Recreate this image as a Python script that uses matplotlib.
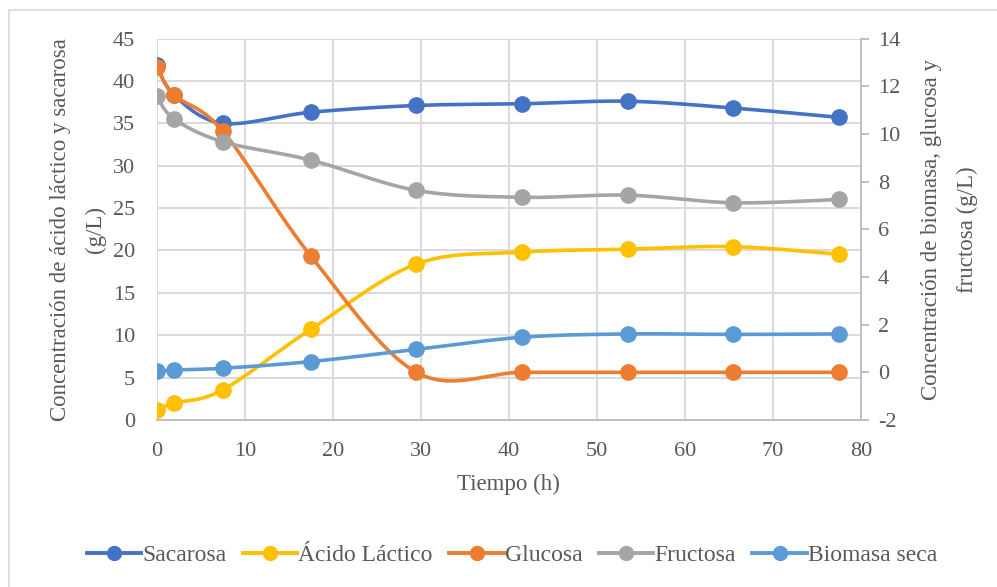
'''Concentraciones durante la fermentacion'''

import numpy as np
import matplotlib.pyplot as plt
from matplotlib.patches import Rectangle
from matplotlib.lines import Line2D

# Data
tiempo = [0, 2, 7.5, 17.5, 29.5, 41.5, 53.5, 65.5, 77.5]
sacarosa = [41.9, 38.3, 35.0, 36.3, 37.1, 37.3, 37.6, 36.8, 35.7]
acido_lactico = [1.2, 2.0, 3.55, 10.7, 18.4, 19.8, 20.15, 20.45, 19.55]
glucosa = [12.8, 11.63, 10.12, 4.88, 0.0, 0.0, 0.0, 0.0, 0.0]
fructosa = [11.58, 10.62, 9.67, 8.90, 7.63, 7.34, 7.43, 7.11, 7.25]
biomasa = [0.05, 0.10, 0.17, 0.45, 0.96, 1.47, 1.61, 1.59, 1.61]

nombres = ['Sacarosa', 'Ácido Láctico', 'Glucosa', 'Fructosa', 'Biomasa seca']
colores = ['#4472C4', '#FFC000', '#ED7D31', '#A5A5A5', '#5B9BD5']

GRIS = '#595959'
REJILLA = '#D9D9D9'


def Suavizar(x, y, n=30):
    '''Excel-like smoothed line (Catmull-Rom bezier)'''
    p = np.column_stack([x, y]).astype(float)
    p = np.vstack([p[0], p, p[-1]])
    xs, ys = [], []
    t = np.linspace(0, 1, n)
    for i in range(1, len(p) - 2):
        p0, p1, p2, p3 = p[i - 1], p[i], p[i + 1], p[i + 2]
        c1 = p1 + (p2 - p0) / 6.0
        c2 = p2 - (p3 - p1) / 6.0
        seg = ((1 - t) ** 3)[:, None] * p1 + (3 * (1 - t) ** 2 * t)[:, None] * c1 \
            + (3 * (1 - t) * t ** 2)[:, None] * c2 + (t ** 3)[:, None] * p2
        xs.extend(seg[:, 0])
        ys.extend(seg[:, 1])
    return xs, ys


def Serie(ax, x, y, color):
    '''Smoothed line plus markers'''
    sx, sy = Suavizar(x, y)
    ax.plot(sx, sy, color=color, lw=2.6, solid_capstyle='round', zorder=3)
    ax.plot(x, y, 'o', color=color, markersize=11, zorder=4)


plt.rcParams['font.family'] = ['Liberation Serif', 'DejaVu Serif']
plt.rcParams['axes.unicode_minus'] = False

fig = plt.figure(figsize=(9.97, 5.87), dpi=100)
ax = fig.add_axes([156.7 / 997, 1 - 420 / 587, (861 - 156.7) / 997, (420 - 38.5) / 587])
ax2 = ax.twinx()

# Left axis series
Serie(ax, tiempo, sacarosa, colores[0])
Serie(ax, tiempo, acido_lactico, colores[1])
# Right axis series
Serie(ax2, tiempo, glucosa, colores[2])
Serie(ax2, tiempo, fructosa, colores[3])
Serie(ax2, tiempo, biomasa, colores[4])

ax.set_xlim(0, 80)
ax.set_ylim(0, 45)
ax.set_xticks(range(0, 81, 10))
ax.set_yticks(range(0, 46, 5))
ax2.set_ylim(-2, 14)
ax2.set_yticks(range(-2, 15, 2))

ax.grid(True, color=REJILLA, lw=1.4, zorder=0)
ax.set_axisbelow(True)
for a in (ax, ax2):
    for s in a.spines.values():
        s.set_visible(False)
ax.spines['bottom'].set_visible(True)
ax.spines['bottom'].set_color('#BFBFBF')
ax.spines['bottom'].set_linewidth(1.4)
ax2.spines['right'].set_visible(True)
ax2.spines['right'].set_color('#BFBFBF')
ax2.spines['right'].set_linewidth(1.4)

ax.tick_params(axis='y', length=0, labelsize=16, labelcolor=GRIS, pad=15.5)
ax.tick_params(axis='x', length=0, labelsize=16, labelcolor=GRIS, pad=16)
ax2.tick_params(axis='y', length=6, width=1.4, color='#BFBFBF', labelsize=16,
                labelcolor=GRIS, pad=6)

ax.set_xlabel('Tiempo (h)', fontsize=16.5, color=GRIS, labelpad=9)
ax.set_ylabel('Concentración de ácido láctico y sacarosa\n(g/L)', fontsize=16.5,
              color=GRIS, labelpad=5, linespacing=1.85)
ax2.set_ylabel('Concentración de biomasa, glucosa y\nfructosa (g/L)', fontsize=16.5,
               color=GRIS, labelpad=15, linespacing=1.9)

# Legend at bottom
handles = [Line2D([0], [0], color=c, lw=2.8, marker='o', markersize=10) for c in colores]
fig.legend(handles, nombres, loc='center', bbox_to_anchor=(512 / 997, 1 - 555 / 587), ncol=5,
           frameon=False, fontsize=17, labelcolor=GRIS, handlelength=2.3,
           handletextpad=0.05, columnspacing=0.7)

# Chart area border
fig.patches.append(Rectangle((9 / 997, -0.05), 1.1, 1 - 10 / 587 + 0.05,
                             transform=fig.transFigure, fill=False,
                             edgecolor=REJILLA, lw=1.2))

fig.savefig('out.png', dpi=100)
